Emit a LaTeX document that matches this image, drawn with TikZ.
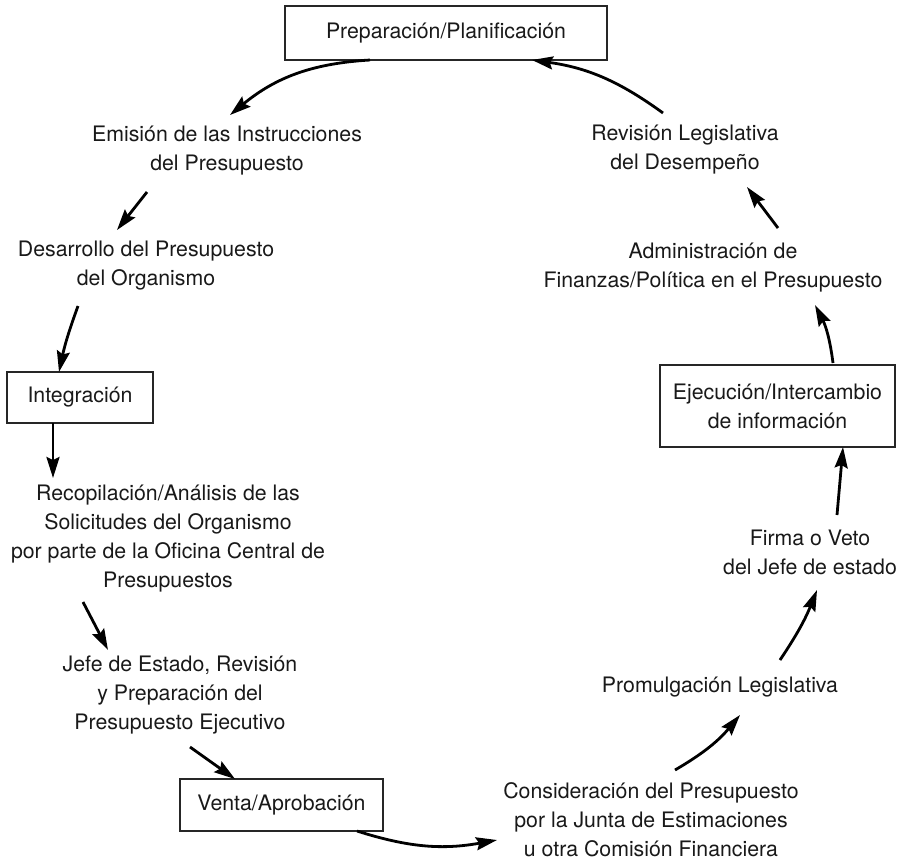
\documentclass[tikz,border=0pt]{standalone}
\usepackage{fontspec}
\setmainfont{TeX Gyre Heros}
\usetikzlibrary{arrows.meta}
\begin{document}
\begin{tikzpicture}[x=1pt,y=-1pt,
  lbl/.style={align=center,inner sep=0pt,font=\fontsize{21.3}{29}\selectfont,text=black!90},
  stagebox/.style={lbl,draw=black!85,line width=1.5pt},
  flow/.style={line width=2.8pt,black,-{Stealth[length=21pt,width=13pt,inset=3pt]}}]
\useasboundingbox (0,0) rectangle (905,860);
\fill[white] (0,0) rectangle (905,860);

% stages of the budget cycle
\node[stagebox,minimum width=322pt,minimum height=54pt] (prep) at (446,33) {Preparación/Planificación};
\node[lbl] (emis) at (227,151) {Emisión de las Instrucciones\\del Presupuesto};
\node[lbl] (desa) at (146,266) {Desarrollo del Presupuesto\\del Organismo};
\node[stagebox,minimum width=146pt,minimum height=51pt] (integ) at (80,397.5) {Integración};
\node[lbl] (recop) at (168,538.5) {Recopilación/Análisis de las\\Solicitudes del Organismo\\por parte de la Oficina Central de\\Presupuestos};
\node[lbl] (jefe) at (180,695) {Jefe de Estado, Revisión\\y Preparación del\\Presupuesto Ejecutivo};
\node[stagebox,minimum width=203pt,minimum height=52pt] (venta) at (281.5,805) {Venta/Aprobación};
\node[lbl] (consid) at (651,820) {Consideración del Presupuesto\\por la Junta de Estimaciones\\u otra Comisión Financiera};
\node[lbl] (promul) at (720,687) {Promulgación Legislativa};
\node[lbl] (firma) at (810,552) {Firma o Veto\\del Jefe de estado};
\node[stagebox,minimum width=235pt,minimum height=82pt] (ejec) at (777.5,406) {Ejecución/Intercambio\\de información};
\node[lbl] (admin) at (713,267.5) {Administración de\\Finanzas/Política en el Presupuesto};
\node[lbl] (revis) at (685,150) {Revisión Legislativa\\del Desempeño};

% free ends of the arrows
\coordinate (prepOut) at (370,60);
\coordinate (emisIn)  at (230,115);
\coordinate (emisOut) at (147,192);
\coordinate (desaIn)  at (117,230);
\coordinate (desaOut) at (78,306);
\coordinate (integIn) at (59,372);
\coordinate (integOut) at (53,423);
\coordinate (recopIn) at (53,478);
\coordinate (recopOut) at (83,602);
\coordinate (jefeIn)  at (108,650);
\coordinate (jefeOut) at (190,747);
\coordinate (ventaIn) at (235,779);
\coordinate (ventaOut) at (357,831);
\coordinate (considIn) at (497,840);
\coordinate (considOut) at (675,770);
\coordinate (promulIn) at (740,715);
\coordinate (promulOut) at (780,660);
\coordinate (firmaIn) at (817,590);
\coordinate (firmaOut) at (837,515);
\coordinate (ejecIn)  at (843,447);
\coordinate (ejecOut) at (833,363);
\coordinate (adminIn) at (815,305);
\coordinate (adminOut) at (778,228);
\coordinate (revisIn) at (747,187);
\coordinate (revisOut) at (663,113);
\coordinate (prepIn)  at (532,60);

% the cycle
\draw[flow] (prepOut) to[bend right=18] (emisIn);
\draw[flow] (emisOut) -- (desaIn);
\draw[flow] (desaOut) to[bend right=4] (integIn);
\draw[flow] (integOut) -- (recopIn);
\draw[flow] (recopOut) -- (jefeIn);
\draw[flow] (jefeOut) -- (ventaIn);
\draw[flow] (ventaOut) to[bend right=14] (considIn);
\draw[flow] (considOut) to[bend right=10] (promulIn);
\draw[flow] (promulOut) to[bend right=6] (firmaIn);
\draw[flow] (firmaOut) -- (ejecIn);
\draw[flow] (ejecOut) to[bend right=10] (adminIn);
\draw[flow] (adminOut) -- (revisIn);
\draw[flow] (revisOut) to[bend right=14] (prepIn);
\end{tikzpicture}
\end{document}
